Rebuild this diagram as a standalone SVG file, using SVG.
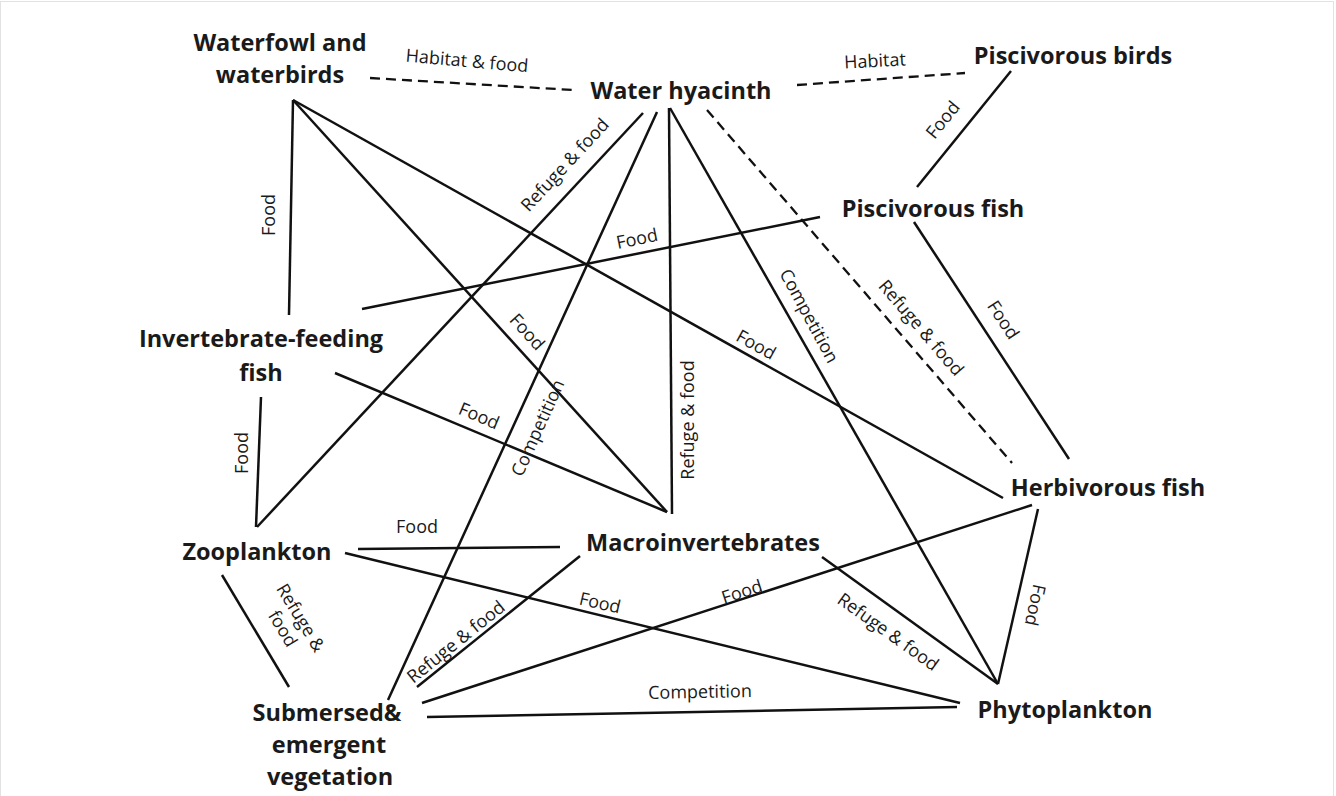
<svg xmlns="http://www.w3.org/2000/svg" width="1336" height="796" viewBox="0 0 1336 796">
<style>
.node{font-family:"Open Sans","Liberation Sans",sans-serif;font-weight:bold;font-size:23.5px;fill:#1a1a1a;text-anchor:middle}
.lbl{font-family:"Open Sans","Liberation Sans",sans-serif;font-size:18px;fill:#1a1a1a;text-anchor:middle}
.ln{stroke:#111;stroke-width:2.5;fill:none;stroke-linecap:butt}
.dash{stroke:#111;stroke-width:2.3;fill:none;stroke-dasharray:10 6}
</style>
<rect x="0" y="0" width="1336" height="796" fill="#fff"/>
<rect x="0.5" y="1.5" width="1333" height="800" fill="none" stroke="#e2e2e2" stroke-width="1"/>
<g id="connectors">
<line class="ln" x1="293" y1="100" x2="289" y2="315"/>
<line class="ln" x1="293" y1="100" x2="667" y2="512"/>
<line class="ln" x1="293" y1="100" x2="1003" y2="498"/>
<line class="ln" x1="643" y1="113" x2="257" y2="527"/>
<line class="ln" x1="657" y1="112" x2="388" y2="700"/>
<line class="ln" x1="669" y1="108" x2="672" y2="514"/>
<line class="ln" x1="670" y1="108" x2="998" y2="684"/>
<line class="ln" x1="1011" y1="71" x2="917" y2="187"/>
<line class="ln" x1="820" y1="217" x2="362" y2="309"/>
<line class="ln" x1="914" y1="222" x2="1069" y2="459"/>
<line class="ln" x1="335" y1="373" x2="667" y2="512"/>
<line class="ln" x1="261" y1="397" x2="256" y2="527"/>
<line class="ln" x1="358" y1="549" x2="560" y2="547"/>
<line class="ln" x1="345" y1="553" x2="960" y2="703"/>
<line class="ln" x1="222" y1="575" x2="289" y2="687"/>
<line class="ln" x1="580" y1="556" x2="417" y2="687"/>
<line class="ln" x1="822" y1="557" x2="998" y2="684"/>
<line class="ln" x1="1032" y1="505" x2="422" y2="703"/>
<line class="ln" x1="1038" y1="509" x2="998" y2="684"/>
<line class="ln" x1="427" y1="717" x2="957" y2="707"/>
<line class="dash" x1="370" y1="78" x2="573" y2="90"/>
<line class="dash" x1="797" y1="85" x2="965" y2="73"/>
<line class="dash" x1="707" y1="110" x2="1012" y2="463"/>
<g id="labels">
<text class="lbl" transform="translate(467,61) rotate(5)" y="6">Habitat &amp; food</text>
<text class="lbl" transform="translate(875,61) rotate(-3)" y="6">Habitat</text>
<text class="lbl" transform="translate(943,120) rotate(-51)" y="6">Food</text>
<text class="lbl" transform="translate(269,215) rotate(-90)" y="6">Food</text>
<text class="lbl" transform="translate(565,165) rotate(-47)" y="6">Refuge &amp; food</text>
<text class="lbl" transform="translate(527,332) rotate(47.6)" y="6">Food</text>
<text class="lbl" transform="translate(538,428) rotate(-65.6)" y="6">Competition</text>
<text class="lbl" transform="translate(688,420) rotate(-90)" y="6">Refuge &amp; food</text>
<text class="lbl" transform="translate(756,345) rotate(29)" y="6">Food</text>
<text class="lbl" transform="translate(809,316) rotate(61.7)" y="6">Competition</text>
<text class="lbl" transform="translate(921,328) rotate(49.4)" y="6">Refuge &amp; food</text>
<text class="lbl" transform="translate(1003,320) rotate(56.7)" y="6">Food</text>
<text class="lbl" transform="translate(637,239) rotate(-11.6)" y="6">Food</text>
<text class="lbl" transform="translate(479,416) rotate(22.8)" y="6">Food</text>
<text class="lbl" transform="translate(242,453) rotate(-90)" y="6">Food</text>
<text class="lbl" transform="translate(417,527)" y="6">Food</text>
<text class="lbl" transform="translate(292,623) rotate(59)"><tspan x="0" y="-4">Refuge &amp;</tspan><tspan x="0" y="17">food</tspan></text>
<text class="lbl" transform="translate(600,603) rotate(13)" y="6">Food</text>
<text class="lbl" transform="translate(456,642) rotate(-38.8)" y="6">Refuge &amp; food</text>
<text class="lbl" transform="translate(742,592) rotate(-18)" y="6">Food</text>
<text class="lbl" transform="translate(888,632) rotate(35.6)" y="6">Refuge &amp; food</text>
<text class="lbl" transform="translate(1035,605) rotate(102)" y="6">Food</text>
<text class="lbl" transform="translate(700,692) rotate(-1)" y="6">Competition</text>
</g>
</g>
<g id="waterfowl"><text class="node" x="280" y="51">Waterfowl and</text><text class="node" x="280" y="83">waterbirds</text></g>
<g id="water-hyacinth"><text class="node" x="681" y="99">Water hyacinth</text></g>
<g id="piscivorous-birds"><text class="node" x="1073" y="64">Piscivorous birds</text></g>
<g id="piscivorous-fish"><text class="node" x="933" y="217">Piscivorous fish</text></g>
<g id="invertebrate-feeding-fish"><text class="node" x="261" y="347">Invertebrate-feeding</text><text class="node" x="261" y="381">fish</text></g>
<g id="herbivorous-fish"><text class="node" x="1108" y="496">Herbivorous fish</text></g>
<g id="zooplankton"><text class="node" x="257" y="560">Zooplankton</text></g>
<g id="macroinvertebrates"><text class="node" x="703" y="551">Macroinvertebrates</text></g>
<g id="submersed-vegetation"><text class="node" x="327" y="721">Submersed&amp;</text><text class="node" x="329" y="753">emergent</text><text class="node" x="330" y="785">vegetation</text></g>
<g id="phytoplankton"><text class="node" x="1065" y="718">Phytoplankton</text></g>
</svg>
